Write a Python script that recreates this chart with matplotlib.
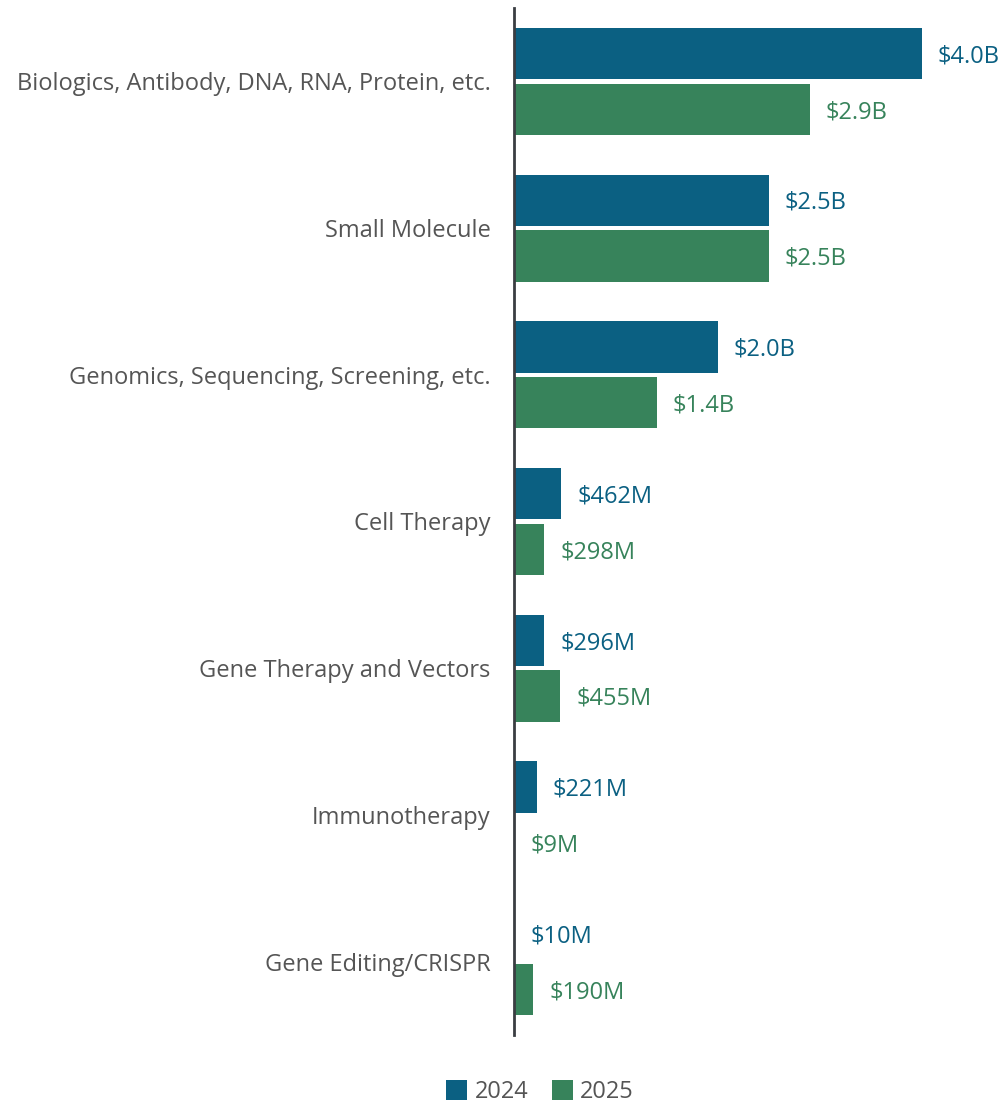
import matplotlib
matplotlib.use("Agg")
import matplotlib.pyplot as plt
import numpy as np

plt.rcParams['font.family'] = ['Open Sans', 'DejaVu Sans']

# 类别与数值（百万美元）
categories = ['Biologics, Antibody, DNA, RNA, Protein, etc.', 'Small Molecule',
              'Genomics, Sequencing, Screening, etc.', 'Cell Therapy',
              'Gene Therapy and Vectors', 'Immunotherapy', 'Gene Editing/CRISPR']
vals_2024 = [4000, 2500, 2000, 462, 296, 221, 10]
vals_2025 = [2900, 2500, 1400, 298, 455, 9, 190]
labels_2024 = ['$4.0B', '$2.5B', '$2.0B', '$462M', '$296M', '$221M', '$10M']
labels_2025 = ['$2.9B', '$2.5B', '$1.4B', '$298M', '$455M', '$9M', '$190M']

c24 = '#0b6082'
c25 = '#37835b'
txt = '#555555'

fig = plt.figure(figsize=(10.06, 11.06), dpi=100)
ax = fig.add_axes([514/1006, 71/1106, 486/1006, 1027/1106])

y = np.arange(len(categories))
h = 0.35
off = 0.19
b1 = ax.barh(y - off, vals_2024, height=h, color=c24, label='2024')
b2 = ax.barh(y + off, vals_2025, height=h, color=c25, label='2025')

for bars, labs, col in [(b1, labels_2024, c24), (b2, labels_2025, c25)]:
    for b, s in zip(bars, labs):
        ax.annotate(s, (b.get_width(), b.get_y() + b.get_height()/2),
                    xytext=(11.5, -2), textcoords='offset points',
                    va='center', ha='left', color=col, fontsize=17)

ax.set_ylim(6.5, -0.5)
ax.set_xlim(0, 4765)
ax.set_yticks(y)
ax.set_yticklabels(categories, fontsize=17, color=txt)
ax.tick_params(axis='y', length=0, pad=17)
ax.set_xticks([])
for s in ['top', 'right', 'bottom']:
    ax.spines[s].set_visible(False)
ax.spines['left'].set_color('#3a3d42')
ax.spines['left'].set_linewidth(2)

fig.legend(handles=[b1, b2], loc='center', bbox_to_anchor=(540/1006, 1-1092/1106),
           ncol=2, frameon=False, fontsize=17, labelcolor=txt,
           handlelength=0.9, handleheight=0.9, handletextpad=0.3, columnspacing=1.0)

fig.savefig('out.png', dpi=100)
